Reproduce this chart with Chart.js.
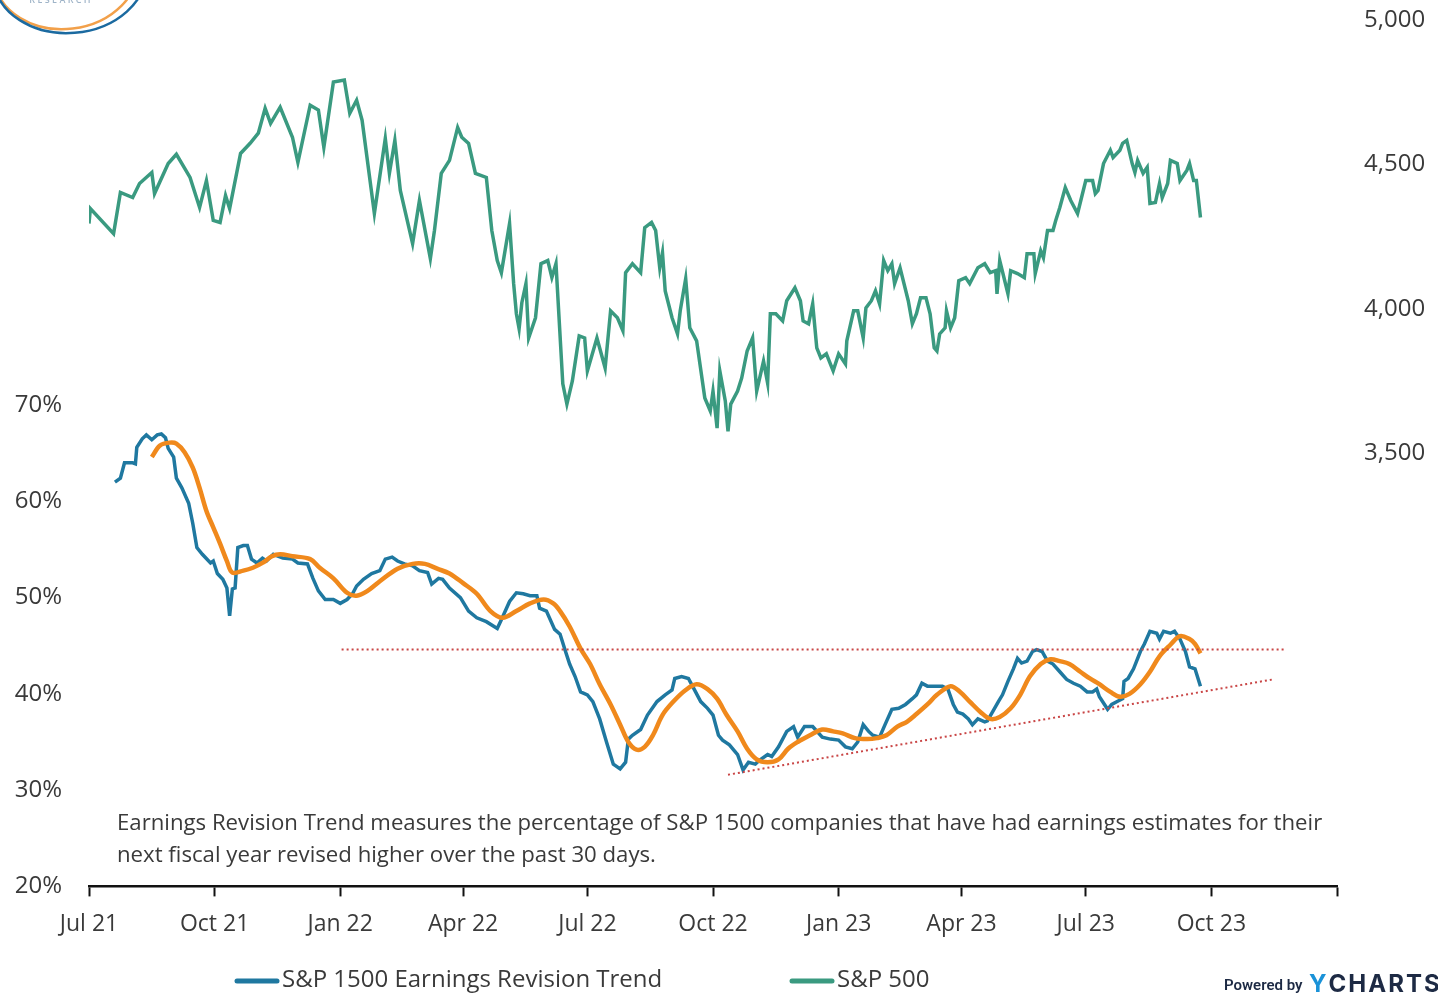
<!DOCTYPE html>
<html>
<head>
<meta charset="utf-8">
<script src="https://cdn.jsdelivr.net/npm/chart.js@4.4.1/dist/chart.umd.min.js"></script>
<style>
  html, body { margin: 0; padding: 0; background: #fff; }
  #wrap { width: 1438px; height: 996px; position: relative; }
</style>
</head>
<body>
<div id="wrap"><canvas id="chart"></canvas></div>
<script>
// x values are days since 1 Jul 2021
const QUARTER_DAYS = [0, 92, 184, 274, 365, 457, 549, 639, 730, 822, 914];
const QUARTER_LABELS = ['Jul 21', 'Oct 21', 'Jan 22', 'Apr 22', 'Jul 22', 'Oct 22', 'Jan 23', 'Apr 23', 'Jul 23', 'Oct 23', ''];
const LEFT_TICKS = [20, 30, 40, 50, 60, 70];
const RIGHT_TICKS = [3500, 4000, 4500, 5000];

const spDays = [0, 1, 18, 23, 32, 37, 46, 48, 58, 64, 74, 81, 86, 91, 96, 100, 103, 111, 118, 124, 129, 133, 140, 149, 153, 162, 168, 172, 179, 187, 191, 196, 200, 209, 217, 220, 224, 228, 237, 242, 250, 253, 258, 264, 270, 273, 278, 283, 291, 295, 299, 302, 308, 311, 313, 315, 317, 320, 322, 327, 331, 336, 339, 342, 347, 350, 354, 359, 363, 365, 372, 378, 382, 387, 391, 393, 398, 404, 407, 412, 415, 418, 420, 422, 427, 431, 433, 437, 440, 445, 451, 455, 457, 460, 462, 466, 468, 470, 475, 478, 482, 486, 489, 494, 497, 499, 503, 508, 511, 517, 521, 523, 527, 530, 533, 536, 540, 545, 549, 554, 555, 560, 563, 567, 569, 573, 576, 579, 582, 585, 588, 590, 594, 600, 603, 606, 609, 613, 616, 619, 621, 623, 627, 628, 631, 634, 637, 642, 645, 651, 656, 660, 664, 665, 667, 673, 675, 680, 685, 687, 692, 693, 697, 699, 702, 706, 708, 711, 715, 719, 724, 730, 735, 737, 739, 743, 748, 750, 755, 757, 760, 764, 766, 768, 772, 775, 777, 781, 784, 786, 790, 792, 797, 799, 804, 806, 809, 811, 814];
const spValues = [4295, 4347, 4260, 4403, 4385, 4434, 4472, 4399, 4503, 4535, 4455, 4351, 4444, 4306, 4299, 4392, 4347, 4538, 4573, 4608, 4694, 4642, 4698, 4594, 4507, 4705, 4688, 4559, 4785, 4792, 4677, 4722, 4653, 4330, 4590, 4469, 4583, 4410, 4226, 4375, 4174, 4271, 4469, 4514, 4628, 4594, 4573, 4469, 4455, 4271, 4167, 4125, 4295, 4087, 3983, 3931, 4021, 4087, 3899, 3969, 4156, 4167, 4108, 4156, 3740, 3670, 3750, 3906, 3899, 3785, 3899, 3795, 3993, 3969, 3924, 4125, 4156, 4125, 4281, 4299, 4271, 4142, 4194, 4062, 3969, 3913, 3993, 4104, 3934, 3889, 3691, 3646, 3715, 3587, 3785, 3681, 3576, 3670, 3715, 3760, 3854, 3899, 3715, 3819, 3743, 3983, 3983, 3958, 4028, 4073, 4028, 3958, 3948, 4017, 3865, 3830, 3844, 3785, 3844, 3809, 3889, 3993, 3993, 3899, 4003, 4028, 4062, 4017, 4167, 4132, 4156, 4087, 4142, 4028, 3948, 3983, 4038, 4038, 3983, 3865, 3854, 3913, 3934, 3993, 3934, 3969, 4097, 4108, 4087, 4142, 4156, 4125, 4132, 4052, 4167, 4052, 4132, 4122, 4108, 4191, 4191, 4122, 4201, 4177, 4271, 4271, 4306, 4351, 4420, 4375, 4330, 4444, 4444, 4399, 4410, 4503, 4549, 4524, 4549, 4573, 4583, 4503, 4472, 4514, 4469, 4490, 4365, 4368, 4434, 4385, 4434, 4514, 4503, 4444, 4479, 4503, 4444, 4444, 4316];

const ertDays = [19, 23, 26, 32, 34, 35, 39, 42, 46, 50, 53, 56, 58, 62, 64, 68, 73, 76, 79, 83, 89, 91, 94, 98, 101, 103, 105, 107, 109, 113, 116, 119, 123, 127, 130, 135, 142, 149, 153, 160, 164, 168, 173, 179, 184, 189, 193, 196, 201, 207, 213, 217, 222, 226, 231, 237, 242, 248, 251, 256, 259, 264, 272, 278, 284, 291, 299, 302, 308, 313, 318, 323, 328, 330, 335, 341, 345, 349, 352, 356, 360, 365, 369, 374, 379, 384, 389, 393, 395, 398, 404, 409, 416, 422, 427, 429, 434, 439, 442, 448, 453, 457, 461, 464, 469, 475, 479, 483, 488, 491, 497, 500, 505, 511, 516, 519, 524, 530, 537, 543, 549, 554, 559, 563, 567, 571, 574, 579, 583, 588, 593, 598, 603, 606, 610, 614, 620, 625, 629, 633, 636, 640, 644, 647, 651, 656, 658, 666, 669, 673, 677, 680, 683, 687, 691, 694, 698, 702, 706, 711, 716, 721, 726, 731, 735, 738, 740, 746, 749, 753, 757, 758, 761, 765, 770, 773, 777, 782, 784, 787, 792, 795, 799, 803, 806, 810, 814];
const ertValues = [62.0, 62.4, 64.0, 64.0, 63.9, 65.6, 66.5, 66.9, 66.4, 66.9, 67.0, 66.6, 65.5, 64.6, 62.4, 61.4, 59.8, 57.7, 55.2, 54.5, 53.6, 53.8, 52.5, 51.9, 51.0, 48.1, 50.9, 51.0, 55.2, 55.4, 55.4, 54.0, 53.6, 54.1, 53.8, 54.5, 54.1, 54.0, 53.6, 53.5, 52.0, 50.7, 49.8, 49.8, 49.4, 49.8, 50.4, 51.2, 51.9, 52.5, 52.8, 54.0, 54.2, 53.8, 53.5, 53.3, 52.8, 52.6, 51.4, 52.0, 51.9, 51.0, 50.0, 48.6, 47.9, 47.5, 46.8, 47.7, 49.6, 50.5, 50.4, 50.2, 50.2, 48.9, 48.6, 46.7, 46.2, 44.4, 43.1, 41.8, 40.2, 39.9, 39.2, 37.4, 35.0, 32.7, 32.2, 32.9, 35.3, 35.7, 36.3, 37.8, 39.2, 39.9, 40.4, 41.6, 41.8, 41.6, 40.8, 39.2, 38.5, 37.8, 35.7, 35.2, 34.7, 33.7, 32.1, 32.9, 32.7, 33.1, 33.7, 33.5, 34.5, 36.1, 36.6, 35.5, 36.6, 36.6, 35.5, 35.3, 35.2, 34.5, 34.3, 35.0, 36.8, 36.1, 35.7, 35.5, 36.8, 38.4, 38.5, 38.9, 39.5, 39.9, 41.1, 40.8, 40.8, 40.8, 40.5, 38.9, 38.1, 37.9, 37.4, 36.8, 37.4, 37.1, 37.2, 39.2, 39.9, 41.3, 42.6, 43.7, 43.2, 43.4, 44.4, 44.6, 44.4, 43.4, 43.1, 42.3, 41.5, 41.1, 40.8, 40.2, 40.2, 40.5, 39.7, 38.4, 38.9, 39.2, 39.5, 41.3, 41.6, 42.6, 44.4, 45.2, 46.5, 46.3, 45.7, 46.5, 46.3, 46.5, 45.7, 44.4, 42.8, 42.6, 40.8];

const avgDays = [46, 52, 59, 64, 70, 76, 81, 86, 91, 96, 101, 105, 113, 120, 127, 134, 140, 149, 162, 169, 179, 189, 196, 204, 213, 226, 237, 246, 255, 264, 274, 284, 294, 303, 313, 323, 333, 340, 345, 352, 360, 367, 374, 382, 389, 395, 401, 407, 413, 420, 428, 437, 445, 453, 460, 467, 475, 482, 489, 497, 505, 512, 519, 528, 537, 545, 552, 561, 570, 577, 584, 592, 599, 606, 614, 621, 631, 638, 645, 653, 660, 667, 675, 682, 689, 697, 704, 711, 718, 726, 733, 740, 748, 755, 762, 770, 777, 784, 792, 799, 806, 810, 814];
const avgValues = [64.6, 65.8, 66.1, 66.0, 65.1, 63.5, 61.4, 59.0, 57.3, 55.6, 53.8, 52.6, 52.8, 53.1, 53.6, 54.3, 54.5, 54.3, 54.0, 53.1, 52.0, 50.5, 50.2, 50.7, 51.7, 53.0, 53.5, 53.5, 53.0, 52.5, 51.5, 50.4, 48.6, 47.9, 48.6, 49.4, 49.8, 49.4, 48.6, 47.0, 44.7, 43.1, 41.0, 38.9, 36.8, 35.0, 34.2, 34.5, 35.7, 37.8, 39.2, 40.4, 41.0, 40.5, 39.5, 37.8, 36.1, 34.3, 33.2, 32.9, 33.2, 34.3, 35.0, 35.7, 36.3, 36.1, 35.9, 35.4, 35.3, 35.4, 35.7, 36.6, 37.1, 37.9, 38.9, 39.9, 40.8, 40.2, 39.2, 38.1, 37.4, 37.6, 38.5, 39.9, 41.8, 43.1, 43.6, 43.4, 43.1, 42.3, 41.6, 41.0, 40.2, 39.7, 40.0, 41.0, 42.3, 43.9, 45.1, 46.0, 45.7, 45.2, 44.2];

const resistDays = [185, 875];
const resistValues = [44.6, 44.6];
const supportDays = [468, 867];
const supportValues = [31.6, 41.5];

const FONT = '"Open Sans", "Noto Sans", sans-serif';
const TEXT = '#3a3a3a';
const BLUE = '#1f78a0';
const TEAL = '#3a9a80';
const ORANGE = '#f0891c';
const RED = '#c94545';

const pts = (xs, ys) => xs.map((x, i) => ({ x, y: ys[i] }));

const decorPlugin = {
  id: 'decor',
  afterDraw(chart) {
    const ctx = chart.ctx;
    ctx.save();
    // logo fragment
    ctx.lineWidth = 2.5;
    ctx.strokeStyle = '#f2a04a';
    ctx.beginPath();
    ctx.ellipse(66, -28, 72, 57, -0.12, 0, Math.PI * 2);
    ctx.stroke();
    ctx.strokeStyle = '#1b6aa0';
    ctx.beginPath();
    ctx.ellipse(70, -25, 76, 58, -0.08, 0, Math.PI * 2);
    ctx.stroke();
    ctx.fillStyle = '#9fb4c8';
    ctx.font = '600 9px ' + FONT;
    ctx.textAlign = 'center';
    ctx.textBaseline = 'alphabetic';
    ctx.fillText('R E S E A R C H', 60, 3);

    // note
    ctx.fillStyle = TEXT;
    ctx.font = '22.2px ' + FONT;
    ctx.textAlign = 'left';
    ctx.textBaseline = 'middle';
    ctx.fillText('Earnings Revision Trend measures the percentage of S&P 1500 companies that have had earnings estimates for their', 117, 824);
    ctx.fillText('next fiscal year revised higher over the past 30 days.', 117, 856);

    // legend
    const items = [
      { label: chart.data.datasets[0].label, color: BLUE, x: 235 },
      { label: chart.data.datasets[2].label, color: TEAL, x: 790 }
    ];
    ctx.font = '24px ' + FONT;
    items.forEach(it => {
      ctx.strokeStyle = it.color;
      ctx.lineWidth = 5;
      ctx.lineCap = 'round';
      ctx.beginPath();
      ctx.moveTo(it.x + 2, 981);
      ctx.lineTo(it.x + 42, 981);
      ctx.stroke();
      ctx.fillStyle = TEXT;
      ctx.fillText(it.label, it.x + 47, 980);
    });

    // powered by
    ctx.fillStyle = '#1d2a44';
    ctx.font = '600 15px "Roboto", ' + FONT;
    ctx.fillText('Powered by', 1224, 986);
    ctx.font = 'bold 24px "Inter", ' + FONT;
    ctx.letterSpacing = '2px';
    ctx.fillStyle = '#1a92d8';
    ctx.fillText('Y', 1309, 985);
    const yw = ctx.measureText('Y').width;
    ctx.fillStyle = '#1d2a44';
    ctx.fillText('CHARTS', 1309 + yw, 985);
    ctx.restore();
  }
};

Chart.register(decorPlugin);

// keep the value axes from reserving extra room for their end labels
const noEndPadding = s => { s.paddingTop = 0; s.paddingBottom = 0; };

const ctx = document.getElementById('chart');
new Chart(ctx, {
  type: 'line',
  data: {
    datasets: [
      {
        label: 'S&P 1500 Earnings Revision Trend',
        data: pts(ertDays, ertValues),
        borderColor: BLUE,
        borderWidth: 3.5,
        pointRadius: 0,
        tension: 0,
        yAxisID: 'y',
        order: 2
      },
      {
        label: 'avg',
        data: pts(avgDays, avgValues),
        borderColor: ORANGE,
        borderWidth: 4.5,
        pointRadius: 0,
        tension: 0.35,
        yAxisID: 'y',
        order: 1
      },
      {
        label: 'S&P 500',
        data: pts(spDays, spValues),
        borderColor: TEAL,
        borderWidth: 3.5,
        pointRadius: 0,
        tension: 0,
        yAxisID: 'y2',
        order: 3
      },
      {
        label: 'resistance',
        data: pts(resistDays, resistValues),
        borderColor: RED,
        borderWidth: 2,
        borderDash: [2, 3],
        pointRadius: 0,
        yAxisID: 'y',
        order: 0
      },
      {
        label: 'support',
        data: pts(supportDays, supportValues),
        borderColor: RED,
        borderWidth: 2,
        borderDash: [2, 3],
        pointRadius: 0,
        yAxisID: 'y',
        order: 0
      }
    ]
  },
  options: {
    responsive: true,
    maintainAspectRatio: false,
    animation: false,
    layout: { padding: { top: 20, bottom: 44, left: 0, right: 0 } },
    plugins: {
      legend: { display: false },
      tooltip: { enabled: false }
    },
    scales: {
      x: {
        type: 'linear',
        min: 0,
        max: 914,
        afterBuildTicks: s => { s.ticks = QUARTER_DAYS.map(v => ({ value: v })); },
        ticks: {
          callback: (v, i) => QUARTER_LABELS[i],
          color: TEXT,
          font: { family: FONT, size: 23 },
          padding: 14,
          maxRotation: 0,
          autoSkip: false
        },
        grid: {
          drawOnChartArea: false,
          drawTicks: true,
          tickLength: 10,
          tickColor: '#111',
          tickWidth: 2
        },
        border: { display: true, color: '#111', width: 2.5 }
      },
      y: {
        position: 'left',
        min: 20,
        max: 110,
        afterBuildTicks: s => { s.ticks = LEFT_TICKS.map(v => ({ value: v })); },
        afterFit: s => { s.width = 89; noEndPadding(s); },
        ticks: {
          callback: v => v + '%',
          color: TEXT,
          font: { family: FONT, size: 24 },
          padding: 19
        },
        grid: { display: false },
        border: { display: false }
      },
      y2: {
        position: 'right',
        min: 2000,
        max: 5000,
        afterBuildTicks: s => { s.ticks = RIGHT_TICKS.map(v => ({ value: v })); },
        afterFit: s => { s.width = 101; noEndPadding(s); },
        ticks: {
          callback: v => v.toLocaleString('en-US'),
          color: TEXT,
          font: { family: FONT, size: 24 },
          padding: 19
        },
        grid: { display: false },
        border: { display: false }
      }
    }
  }
});
</script>
</body>
</html>
